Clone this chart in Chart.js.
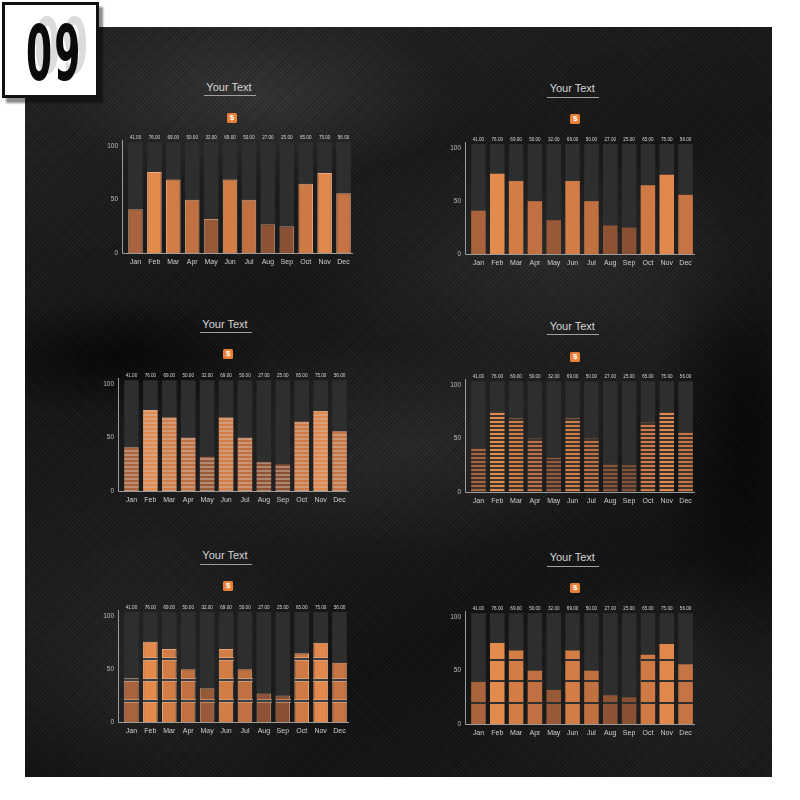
<!DOCTYPE html>
<html>
<head>
<meta charset="utf-8">
<script src="https://cdn.jsdelivr.net/npm/chart.js@4"></script>
<style>
  html, body { margin: 0; padding: 0; }
  body { width: 800px; height: 800px; background: #fff; position: relative; overflow: hidden; font-family: "Liberation Sans", Arial, sans-serif; }
  .panel {
    position: absolute; left: 25px; top: 27px; width: 747px; height: 750px;
    background-color: #141414;
    background-image:
      repeating-linear-gradient(45deg, rgba(255,255,255,0.022) 0 1px, transparent 1px 3px),
      repeating-linear-gradient(-45deg, rgba(0,0,0,0.18) 0 1px, transparent 1px 3px),
      radial-gradient(ellipse 200px 90px at 230px 70px, rgba(70,70,70,0.55), transparent),
      radial-gradient(ellipse 260px 120px at 520px 230px, rgba(60,60,60,0.5), transparent),
      radial-gradient(ellipse 240px 110px at 380px 420px, rgba(55,55,55,0.45), transparent),
      radial-gradient(ellipse 180px 140px at 140px 650px, rgba(60,60,60,0.45), transparent),
      radial-gradient(ellipse 200px 120px at 620px 650px, rgba(50,50,50,0.4), transparent),
      radial-gradient(ellipse 90px 260px at 720px 400px, rgba(0,0,0,0.7), transparent),
      radial-gradient(ellipse 160px 60px at 90px 330px, rgba(0,0,0,0.7), transparent),
      linear-gradient(160deg, #262626 0%, #161616 35%, #1d1d1d 55%, #121212 75%, #1b1b1b 100%);
  }
  .badge {
    position: absolute; left: 2px; top: 2px; width: 91px; height: 90px;
    border: 3px solid #111; background: #fff;
    box-shadow: 4px 5px 2px rgba(0,0,0,0.45);
    overflow: hidden;
  }
  .num {
    position: absolute; font-family: "DejaVu Sans Condensed", "DejaVu Sans", sans-serif;
    font-weight: bold; font-size: 76px; line-height: 1; letter-spacing: 4px;
    transform: scaleX(0.55); transform-origin: left top; white-space: nowrap;
  }
  .ghost { color: #dcdcdc; left: 29px; top: 4px; }
  .main { color: #0a0a0a; left: 21px; top: 11px; }
  .box { position: absolute; }
  .title {
    position: absolute; color: #d6d6d6; font-size: 11px; white-space: nowrap;
    transform: translate(-50%, -50%);
  }
  .rule { position: absolute; height: 1px; width: 52px; background: #a0a0a0; transform: translateX(-50%); }
  .icon {
    position: absolute; width: 10px; height: 10px; background: #ea7f36; border-radius: 1.5px;
    color: #fff; font-size: 8px; font-weight: bold; line-height: 10px; text-align: center;
    transform: translate(-50%, -50%);
  }
</style>
</head>
<body>
<div class="panel"></div>
<div id="charts"></div>
<div class="badge">
  <span class="num ghost">09</span>
  <span class="num main">09</span>
</div>

<script>
// chart values
const months = ['Jan', 'Feb', 'Mar', 'Apr', 'May', 'Jun', 'Jul', 'Aug', 'Sep', 'Oct', 'Nov', 'Dec'];
const values = [41, 76, 69, 50, 32, 69, 50, 27, 25, 65, 75, 56];
const valueLabels = values.map(v => v.toFixed(2));
const trackValues = [104, 104, 104, 104, 104, 104, 104, 104, 104, 104, 104, 104];
const yTicks = [0, 50, 100];
const yMax = 106;
const segmentBreaks = [20, 40, 60];

// layout of the six panels (plot area in page px)
const panels = [
  { style: 'border',      left: 125.5, right: 352.8, top: 139.9, bottom: 253.3, tx: 229,   ty: 86.7,  ix: 232,   iy: 117.7 },
  { style: 'plain',       left: 469.3, right: 695.7, top: 142,   bottom: 254.3, tx: 572.3, ty: 88.3,  ix: 575.3, iy: 118.7 },
  { style: 'stripeLight', left: 121.8, right: 349.2, top: 377.6, bottom: 490.3, tx: 225,   ty: 324,   ix: 228.3, iy: 354.3 },
  { style: 'stripeDark',  left: 469.3, right: 695.7, top: 379.3, bottom: 492,   tx: 572.3, ty: 325.7, ix: 575.3, iy: 356.7 },
  { style: 'segLight',    left: 121.8, right: 349.2, top: 609.6, bottom: 722,   tx: 225,   ty: 555.3, ix: 228.3, iy: 586.3 },
  { style: 'segDark',     left: 469.3, right: 695.7, top: 611,   bottom: 723.7, tx: 572.3, ty: 557.3, ix: 575.3, iy: 587.7 }
];

const Y_W = 30, PAD_TOP = 14, X_H = 22, PAD_R = 2, AXIS_GAP = 3.8;

Chart.defaults.font.family = '"Liberation Sans", Arial, sans-serif';

// colour ramp: darker brown for small values, bright orange for large
const ramp = [[25, [138, 80, 52]], [41, [170, 100, 61]], [50, [192, 112, 65]], [69, [211, 125, 70]], [76, [227, 138, 77]]];
function rgbFor(v) {
  if (v <= ramp[0][0]) return ramp[0][1];
  for (let i = 1; i < ramp.length; i++) {
    if (v <= ramp[i][0]) {
      const t = (v - ramp[i - 1][0]) / (ramp[i][0] - ramp[i - 1][0]);
      return ramp[i - 1][1].map((c, k) => Math.round(c + (ramp[i][1][k] - c) * t));
    }
  }
  return ramp[ramp.length - 1][1];
}
const css = c => `rgb(${c[0]},${c[1]},${c[2]})`;
const mix = (c, d, t) => c.map((x, k) => Math.round(x + (d[k] - x) * t));

function stripes(fg, gap) {
  const c = document.createElement('canvas');
  c.width = 4; c.height = 4;
  const g = c.getContext('2d');
  g.fillStyle = gap; g.fillRect(0, 0, 4, 4);
  g.fillStyle = fg; g.fillRect(0, 0, 4, 2);
  return g.createPattern(c, 'repeat');
}

const axisLines = {
  id: 'axisLines',
  afterDatasetsDraw(chart) {
    const { ctx, chartArea: a } = chart;
    const x0 = Math.round(a.left - AXIS_GAP) + 0.5;
    const yb = Math.round(a.bottom) + 0.5;
    ctx.save();
    ctx.strokeStyle = '#9c9c9c';
    ctx.lineWidth = 1;
    ctx.beginPath();
    ctx.moveTo(x0, a.top);
    ctx.lineTo(x0, yb);
    ctx.lineTo(a.right, yb);
    ctx.stroke();
    ctx.restore();
  }
};

const topLabels = {
  id: 'topLabels',
  afterDatasetsDraw(chart) {
    const { ctx, chartArea: a } = chart;
    const meta = chart.getDatasetMeta(1);
    ctx.save();
    ctx.fillStyle = '#d8d8d8';
    ctx.font = '4.6px "Liberation Sans", Arial, sans-serif';
    ctx.textAlign = 'center';
    ctx.textBaseline = 'middle';
    meta.data.forEach((bar, i) => ctx.fillText(valueLabels[i], bar.x, a.top - 2.6));
    ctx.restore();
  }
};

const segLines = {
  id: 'segLines',
  afterDatasetsDraw(chart, args, opts) {
    if (!opts.mode) return;
    const { ctx } = chart;
    const y = chart.scales.y;
    const meta = chart.getDatasetMeta(0);
    ctx.save();
    meta.data.forEach((bar, i) => {
      const x0 = Math.round(bar.x - bar.width / 2);
      const w = Math.round(bar.width);
      segmentBreaks.forEach(b => {
        if (values[i] <= b) return;
        const py = Math.round(y.getPixelForValue(b));
        if (opts.mode === 'light') {
          ctx.fillStyle = 'rgba(235,175,130,0.55)';
          ctx.fillRect(x0, py - 2, w, 1);
          ctx.fillRect(x0, py + 1, w, 1);
          ctx.fillStyle = '#34404b';
          ctx.fillRect(x0, py - 1, w, 2);
        } else {
          ctx.fillStyle = '#2f2f2f';
          ctx.fillRect(x0, py - 1, w, 2);
        }
      });
    });
    ctx.restore();
  }
};

const host = document.getElementById('charts');

panels.forEach(p => {
  const L = Math.round(p.left - Y_W), T = Math.round(p.top - PAD_TOP);
  const W = Math.round(p.right - p.left + Y_W + PAD_R), H = Math.round(p.bottom - p.top + PAD_TOP + X_H);

  const box = document.createElement('div');
  box.className = 'box';
  box.style.cssText = `left:${L}px;top:${T}px;width:${W}px;height:${H}px;`;
  const canvas = document.createElement('canvas');
  box.appendChild(canvas);
  host.appendChild(box);

  const title = document.createElement('div');
  title.className = 'title';
  title.textContent = 'Your Text';
  title.style.left = p.tx + 'px'; title.style.top = p.ty + 'px';
  host.appendChild(title);
  const rule = document.createElement('div');
  rule.className = 'rule';
  rule.style.left = (p.tx + 0.7) + 'px'; rule.style.top = Math.round(p.ty + 8.3) + 'px';
  host.appendChild(rule);
  const icon = document.createElement('div');
  icon.className = 'icon';
  icon.textContent = '$';
  icon.style.left = p.ix + 'px'; icon.style.top = p.iy + 'px';
  host.appendChild(icon);

  const rgb = values.map(rgbFor);
  let fill = rgb.map(css);
  let border = 'transparent', borderWidth = 0;
  if (p.style === 'border') {
    border = rgb.map(c => css(mix(c, [255, 235, 215], 0.35)));
    borderWidth = 1;
  } else if (p.style === 'stripeLight') {
    fill = rgb.map(c => stripes(css(c), css(mix(c, [205, 185, 172], 0.5))));
  } else if (p.style === 'stripeDark') {
    fill = rgb.map(c => stripes(css(c), '#3a3431'));
  } else if (p.style === 'segLight') {
    border = rgb.map(c => css(mix(c, [255, 215, 175], 0.45)));
    borderWidth = 1;
  }

  new Chart(canvas, {
    type: 'bar',
    data: {
      labels: months,
      datasets: [
        {
          data: values,
          backgroundColor: fill,
          borderColor: border,
          borderWidth: borderWidth,
          borderSkipped: 'bottom',
          grouped: false,
          categoryPercentage: 1,
          barPercentage: 0.77
        },
        {
          data: trackValues,
          backgroundColor: '#2e2e2e',
          grouped: false,
          categoryPercentage: 1,
          barPercentage: 0.77
        }
      ]
    },
    options: {
      responsive: true,
      maintainAspectRatio: false,
      animation: false,
      layout: { padding: { top: PAD_TOP, right: PAD_R, left: 0, bottom: 0 } },
      scales: {
        x: {
          grid: { display: false, drawTicks: false, tickLength: 0 },
          border: { display: false },
          ticks: { color: '#cfcfcf', font: { size: 7 }, padding: 5, maxRotation: 0, autoSkip: false },
          afterFit: s => { s.height = X_H; }
        },
        y: {
          min: 0,
          max: yMax,
          grid: { display: false, drawTicks: false, tickLength: 0 },
          border: { display: false },
          ticks: { color: '#bdbdbd', font: { size: 6.5 }, padding: 8 },
          afterBuildTicks: s => { s.ticks = yTicks.map(v => ({ value: v })); },
          afterFit: s => { s.width = Y_W; }
        }
      },
      plugins: {
        legend: { display: false },
        tooltip: { enabled: false },
        segLines: { mode: p.style === 'segLight' ? 'light' : p.style === 'segDark' ? 'dark' : null }
      }
    },
    plugins: [axisLines, topLabels, segLines]
  });
});
</script>
</body>
</html>
